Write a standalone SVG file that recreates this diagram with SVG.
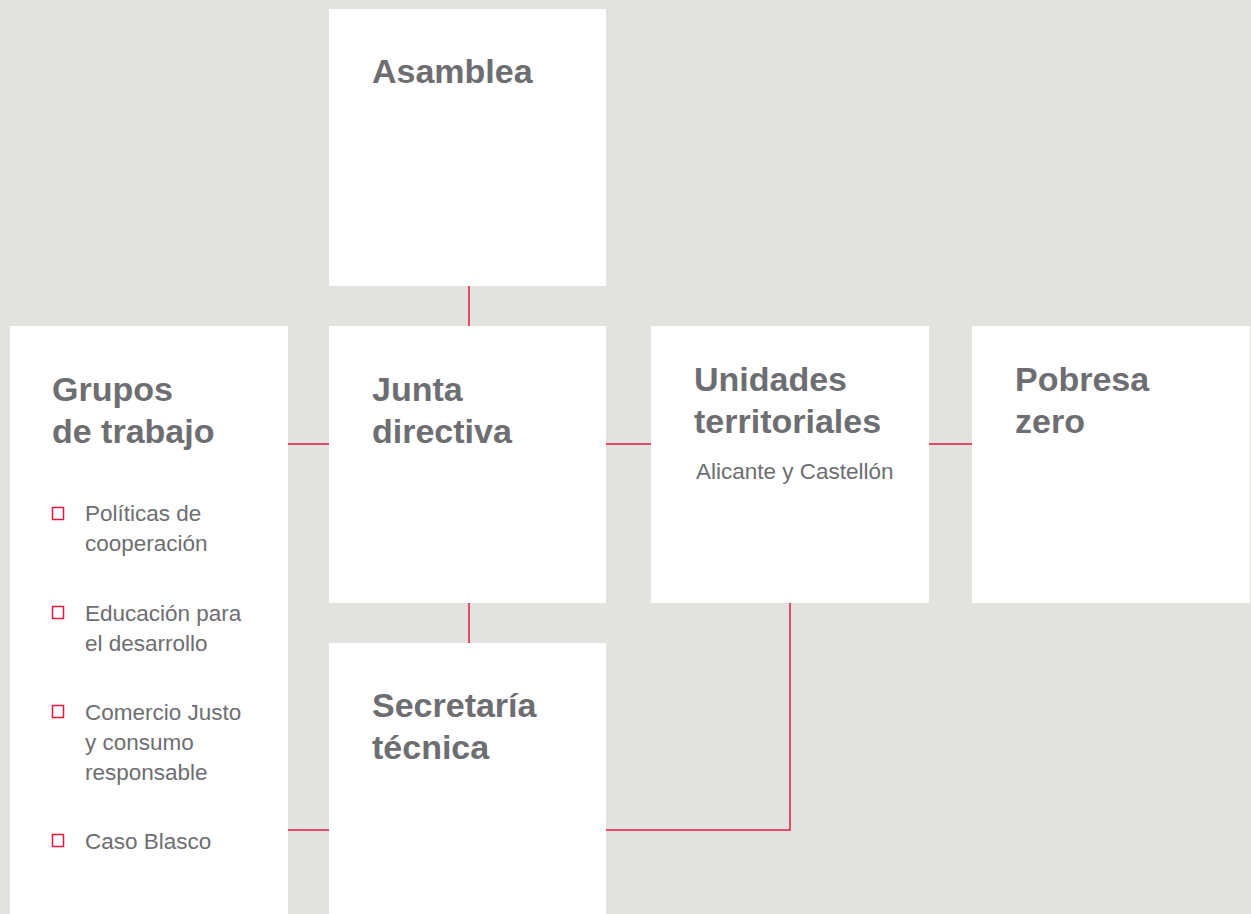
<svg xmlns="http://www.w3.org/2000/svg" width="1251" height="914" viewBox="0 0 1251 914">
<style>
.box{fill:#ffffff}
.h{font-family:"Liberation Sans",Arial,sans-serif;font-weight:bold;font-size:34px;fill:#6d6e71}
.t{font-family:"Liberation Sans",Arial,sans-serif;font-size:22.5px;fill:#6d6e71}
.c{stroke:#e5173f;stroke-width:1.5;fill:none}
.b{stroke:#e5173f;stroke-width:1.5;fill:none}
</style>
<rect width="1251" height="914" fill="#e2e2de"/>
<g id="connectors">
<line class="c" x1="469" y1="286" x2="469" y2="326"/>
<line class="c" x1="288" y1="444" x2="329" y2="444"/>
<line class="c" x1="606" y1="444" x2="651" y2="444"/>
<line class="c" x1="929" y1="444" x2="972" y2="444"/>
<line class="c" x1="469" y1="603" x2="469" y2="643"/>
<line class="c" x1="288" y1="830" x2="329" y2="830"/>
<polyline class="c" points="606,830 790,830 790,603"/>
</g>
<g id="asamblea">
<rect class="box" x="329" y="9" width="277" height="277"/>
<text class="h" x="372" y="83">Asamblea</text>
</g>
<g id="grupos">
<rect class="box" x="10" y="326" width="278" height="588"/>
<text class="h" x="52" y="401">Grupos</text>
<text class="h" x="52" y="443">de trabajo</text>
<rect class="b" x="52.5" y="507.5" width="11" height="12"/>
<text class="t" x="85" y="521">Políticas de</text>
<text class="t" x="85" y="551">cooperación</text>
<rect class="b" x="52.5" y="606.5" width="11" height="12"/>
<text class="t" x="85" y="621">Educación para</text>
<text class="t" x="85" y="651">el desarrollo</text>
<rect class="b" x="52.5" y="705.5" width="11" height="12"/>
<text class="t" x="85" y="720">Comercio Justo</text>
<text class="t" x="85" y="750">y consumo</text>
<text class="t" x="85" y="780">responsable</text>
<rect class="b" x="52.5" y="834.5" width="11" height="12"/>
<text class="t" x="85" y="849">Caso Blasco</text>
</g>
<g id="junta">
<rect class="box" x="329" y="326" width="277" height="277"/>
<text class="h" x="372" y="401">Junta</text>
<text class="h" x="372" y="443">directiva</text>
</g>
<g id="unidades">
<rect class="box" x="651" y="326" width="278" height="277"/>
<text class="h" x="694" y="391">Unidades</text>
<text class="h" x="694" y="433">territoriales</text>
<text class="t" x="696" y="479">Alicante y Castellón</text>
</g>
<g id="pobresa">
<rect class="box" x="972" y="326" width="278" height="277"/>
<text class="h" x="1015" y="391">Pobresa</text>
<text class="h" x="1015" y="433">zero</text>
</g>
<g id="secretaria">
<rect class="box" x="329" y="643" width="277" height="271"/>
<text class="h" x="372" y="717">Secretaría</text>
<text class="h" x="372" y="759">técnica</text>
</g>
</svg>
